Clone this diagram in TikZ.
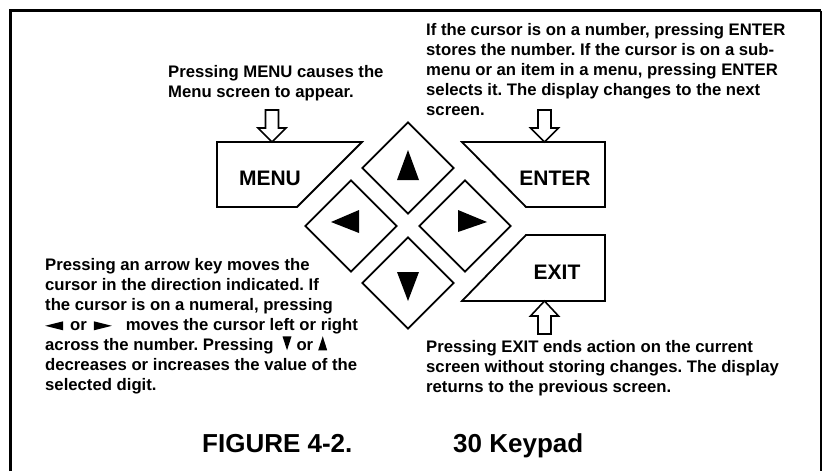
\documentclass[tikz,border=0pt]{standalone}
\usepackage{fontspec}
\setmainfont{Liberation Sans}
\usetikzlibrary{shapes.geometric}
\frenchspacing
\newcommand\kpL{\tikz[x=1pt,y=1pt,baseline=0pt]\fill (0,4.5)--(18,9)--(18,0)--cycle;}
\newcommand\kpR{\tikz[x=1pt,y=1pt,baseline=0pt]\fill (0,0)--(18,4.5)--(0,9)--cycle;}
\newcommand\kpD{\tikz[x=1pt,y=1pt,baseline=0pt]\fill (0,14)--(9,14)--(4.5,0)--cycle;}
\newcommand\kpU{\tikz[x=1pt,y=1pt,baseline=0pt]\fill (0,0)--(9,0)--(4.5,14)--cycle;}
\begin{document}
\begin{tikzpicture}[x=1pt,y=-1pt,
  keyshape/.style={draw,line width=1.8pt,line join=miter},
  keylabel/.style={inner sep=0pt,font=\fontsize{21}{24}\selectfont\bfseries},
  dkey/.style={draw,diamond,aspect=1,minimum width=92pt,minimum height=92pt,inner sep=0pt,line width=1.8pt},
  txt/.style={inner sep=0pt,align=left,anchor=north west,font=\fontsize{16.7}{20}\selectfont\bfseries},
  ttl/.style={inner sep=0pt,font=\fontsize{26}{30}\selectfont\bfseries},
  hollowdown/.pic={\draw[line width=1.6pt,fill=white,line join=miter] (-6.5,-32) -- (6.5,-32) -- (6.5,-14) -- (14,-14) -- (0,0) -- (-14,-14) -- (-6.5,-14) -- cycle;},
  hollowup/.pic={\draw[line width=1.6pt,fill=white,line join=miter] (-6.5,33) -- (6.5,33) -- (6.5,15) -- (14,15) -- (0,0) -- (-14,15) -- (-6.5,15) -- cycle;}
]
\useasboundingbox (0,0) rectangle (824,471);
% frame
\draw[line width=3pt] (10,471) -- (10,10.5) -- (821,10.5);
\draw[line width=1.8pt] (821,10.5) -- (821,471);

% keys
\draw[keyshape] (217,142) -- (362,142) -- (297,207) -- (217,207) -- cycle;
\node[keylabel] (menu) at (270,178) {MENU};
\draw[keyshape] (462,142) -- (605,142) -- (605,207) -- (526,207) -- cycle;
\node[keylabel] (enter) at (555,178) {ENTER};
\draw[keyshape] (526,235) -- (605,235) -- (605,301) -- (462,301) -- cycle;
\node[keylabel] (exit) at (557,272) {EXIT};

% diamond keys
\node[dkey] (kup) at (408,168) {};
\node[dkey] (kleft) at (351,226) {};
\node[dkey] (kright) at (465,226) {};
\node[dkey] (kdown) at (408,283) {};
\fill[shift={(kup)}] (0,-18) -- (11,12) -- (-11,12) -- cycle;
\fill[shift={(kdown)}] (0,18) -- (11,-11) -- (-11,-11) -- cycle;
\fill[shift={(kleft)}] (-20,-4) -- (8,-16) -- (8,7) -- cycle;
\fill[shift={(kright)}] (22,-4) -- (-7,-16) -- (-7,6) -- cycle;

% hollow arrows
\coordinate (menutip) at (272,142);
\coordinate (entertip) at (544.5,142);
\coordinate (exittip) at (544.5,301);
\pic at (menutip) {hollowdown};
\pic at (entertip) {hollowdown};
\pic at (exittip) {hollowup};

% texts
\node[txt] (menutext) at (168,65) {Pressing MENU causes the\\Menu screen to appear.};
\node[txt] (entertext) at (426,23) {If the cursor is on a number, pressing ENTER\\stores the number. If the cursor is on a sub-\\menu or an item in a menu, pressing ENTER\\selects it. The display changes to the next\\screen.};
\node[txt] (arrowtext) at (45,258) {Pressing an arrow key moves the\\cursor in the direction indicated. If\\the cursor is on a numeral, pressing\\\kpL\hspace{7pt}or\hspace{7pt}\kpR\hspace{14pt}moves the cursor left or right\\across the number. Pressing\hspace{9pt}\kpD\hspace{5pt}or\hspace{5pt}\kpU\\decreases or increases the value of the\\selected digit.};
\node[txt] (exittext) at (426,340) {Pressing EXIT ends action on the current\\screen without storing changes. The display\\returns to the previous screen.};

% title
\node[ttl,anchor=base west] (fig) at (202,452) {FIGURE 4-2.};
\node[ttl,anchor=base west] (cap) at (453,452) {30 Keypad};
\end{tikzpicture}
\end{document}
